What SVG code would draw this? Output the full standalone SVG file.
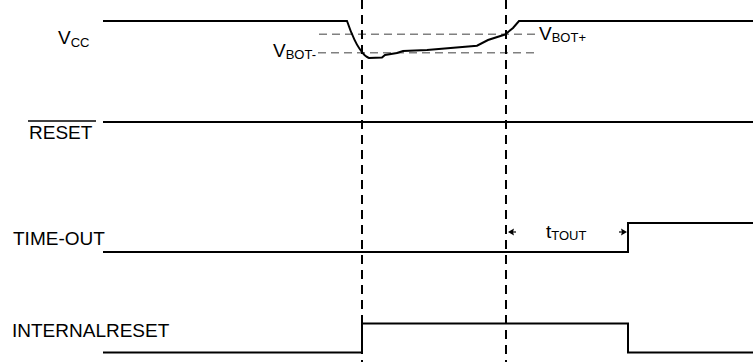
<svg xmlns="http://www.w3.org/2000/svg" width="753" height="362" viewBox="0 0 753 362">
<style>
.sig{fill:none;stroke:#000;stroke-width:2;stroke-linejoin:miter}
.vd{fill:none;stroke:#000;stroke-width:2;stroke-dasharray:9,6}
.hd{fill:none;stroke:#808080;stroke-width:1.5;stroke-dasharray:8,5}
.lbl{font-family:"Liberation Sans",Arial,sans-serif;font-size:19px;fill:#000}
.sub{font-size:13px}
</style>
<rect width="753" height="362" fill="#fff"/>
<g id="labels">
<text class="lbl" x="58" y="44">V<tspan class="sub" dy="3">CC</tspan></text>
<text class="lbl" x="29" y="139">RESET</text>
<line x1="28" y1="121" x2="96" y2="121" stroke="#000" stroke-width="1.5"/>
<text class="lbl" x="13" y="245">TIME-OUT</text>
<text class="lbl" x="12" y="337">INTERNALRESET</text>
<text class="lbl" x="273" y="57">V<tspan class="sub" dy="2">BOT-</tspan></text>
<text class="lbl" x="539" y="40">V<tspan class="sub" dy="2">BOT+</tspan></text>
<text class="lbl" x="546" y="238">t<tspan class="sub" dy="2">TOUT</tspan></text>
</g>
<g id="connectors">
<line class="hd" x1="319" y1="34.3" x2="536" y2="34.3"/>
<line class="hd" x1="318" y1="52.7" x2="537" y2="52.7"/>
<line class="vd" x1="362" y1="0" x2="362" y2="362"/>
<line class="vd" x1="506" y1="0" x2="506" y2="362"/>
<path class="sig" d="M103,21 L347,21 C349,26 350,30 352,34 C354,39 357,46 362,52 C364,55 366,57 369,58 L382,57.5 L385,55 L397,53 L403,51 L427,50 L477,45.7 L488,40 L505,34.5 L513,28 L519,21 L753,21"/>
<path class="sig" d="M103,122 L753,122"/>
<path class="sig" d="M103,252 L628,252 L628,223 L753,223"/>
<path class="sig" d="M103,352.5 L362,352.5 L362,323.5 L628,323.5 L628,352.5 L753,352.5"/>
<line x1="512" y1="232" x2="516" y2="232" stroke="#000" stroke-width="1.2"/>
<polygon points="508,232 514,228.5 513,232 514,235.5" fill="#000"/>
<line x1="619" y1="232" x2="623" y2="232" stroke="#000" stroke-width="1.2"/>
<polygon points="627,232 621,228.5 622,232 621,235.5" fill="#000"/>
</g>
</svg>
